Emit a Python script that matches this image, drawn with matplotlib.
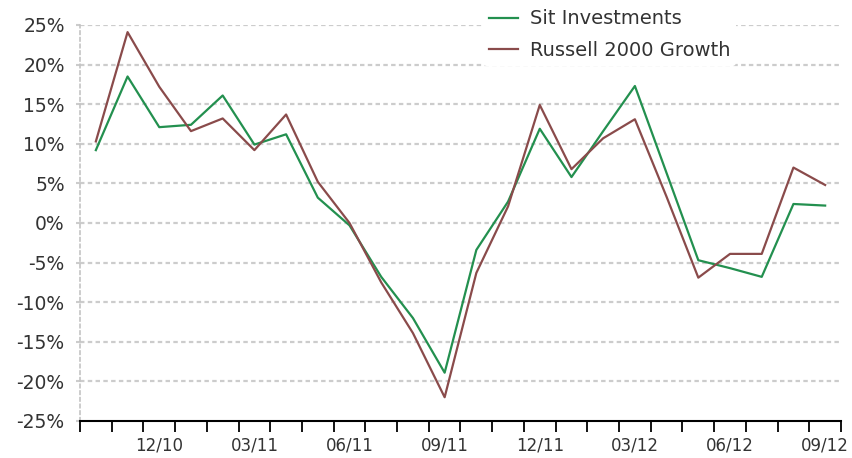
import numpy as np
import matplotlib
matplotlib.use("Agg")
import matplotlib.pyplot as plt
from matplotlib.ticker import FixedLocator, FixedFormatter

months = ["10/10", "11/10", "12/10", "01/11", "02/11", "03/11", "04/11", "05/11",
          "06/11", "07/11", "08/11", "09/11", "10/11", "11/11", "12/11", "01/12",
          "02/12", "03/12", "04/12", "05/12", "06/12", "07/12", "08/12", "09/12"]
sit = [9.2, 18.5, 12.1, 12.4, 16.1, 9.9, 11.2, 3.2, -0.3, -6.8, -12.0, -18.9,
       -3.4, 2.7, 11.9, 5.8, 11.6, 17.3, 6.3, -4.7, -5.7, -6.8, 2.4, 2.2]
russell = [10.3, 24.1, 17.2, 11.6, 13.2, 9.2, 13.7, 5.2, 0.0, -7.5, -13.9, -22.0,
           -6.3, 2.1, 14.9, 6.8, 10.7, 13.1, 3.3, -6.9, -3.9, -3.9, 7.0, 4.8]
labelled = ["12/10", "03/11", "06/11", "09/11", "12/11", "03/12", "06/12", "09/12"]
series_names = ["Sit Investments", "Russell 2000 Growth"]
yticks = [-25, -20, -15, -10, -5, 0, 5, 10, 15, 20, 25]

green = "#23904f"
brown = "#8a4b4b"
txt = "#333333"

fig = plt.figure(figsize=(8.53, 4.58), dpi=100)
ax = fig.add_axes([80/853, 1-421/458, (841-80)/853, (421-25)/458])

x = np.arange(len(months))
ax.plot(x, sit, color=green, lw=1.6, label=series_names[0], zorder=3)
ax.plot(x, russell, color=brown, lw=1.6, label=series_names[1], zorder=3)

ax.set_xlim(-0.5, len(months) - 0.5)
ax.set_ylim(-25, 25)

ax.set_yticks(yticks)
ax.set_yticklabels([f"{v}%" for v in yticks], fontsize=13.5, color=txt)
ax.tick_params(axis="y", length=3, width=1.5, color="#cccccc", pad=8)

ax.xaxis.set_major_locator(FixedLocator(np.arange(-0.5, len(months), 1)))
ax.xaxis.set_major_formatter(FixedFormatter([""] * (len(months) + 1)))
pos = [months.index(m) for m in labelled]
ax.xaxis.set_minor_locator(FixedLocator(pos))
ax.xaxis.set_minor_formatter(FixedFormatter(labelled))
ax.tick_params(axis="x", which="major", length=8, width=1.3, color="black")
ax.tick_params(axis="x", which="minor", length=0, labelsize=12, labelcolor=txt, pad=11)

for v in yticks[1:]:
    ax.axhline(v, color="#cccccc", lw=1.6, ls=(0, (2, 1.5)), zorder=1)

for s in ["top", "right"]:
    ax.spines[s].set_visible(False)
ax.spines["bottom"].set_color("black")
ax.spines["bottom"].set_linewidth(1.5)
ax.spines["left"].set_color("#c4c4c4")
ax.spines["left"].set_linestyle((0, (2, 2)))
ax.spines["left"].set_linewidth(1.2)

leg = ax.legend(loc="upper left", bbox_to_anchor=(403/761, 1.054), frameon=True,
                fontsize=14, handlelength=1.5, handletextpad=0.6, labelspacing=0.65,
                borderpad=0.3, borderaxespad=0)
leg.get_frame().set_facecolor("white")
leg.get_frame().set_edgecolor("none")
leg.get_frame().set_alpha(1)
for t in leg.get_texts():
    t.set_color(txt)

fig.savefig("out.png", dpi=100, facecolor="white")
